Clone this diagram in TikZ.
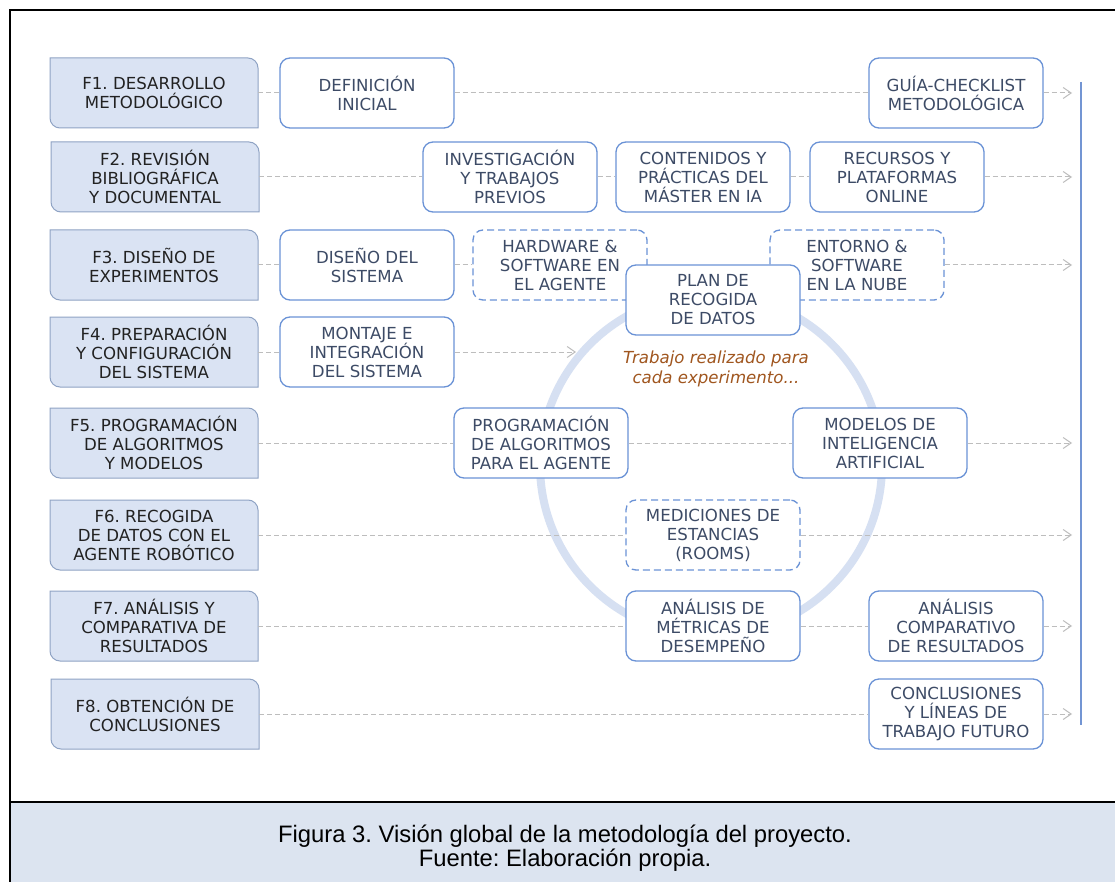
\documentclass[tikz,border=0pt]{standalone}
\usepackage{fontspec}
\setmainfont{DejaVu Sans}
\newfontfamily\capfont{Liberation Sans}
\usetikzlibrary{arrows.meta}
\frenchspacing

\definecolor{phasefill}{HTML}{DAE3F3}
\definecolor{phaseedge}{HTML}{8FA3C4}
\definecolor{phaseink}{HTML}{222222}
\definecolor{taskedge}{HTML}{6A92D6}
\definecolor{taskink}{HTML}{3D4B66}
\definecolor{linkgray}{HTML}{BDBDBD}
\definecolor{ringblue}{HTML}{D6E0F2}
\definecolor{notebrown}{HTML}{A0561F}
\definecolor{capfill}{HTML}{DCE4F0}
\definecolor{railblue}{HTML}{7395D3}

\tikzset{
  boxfont/.style={font=\frenchspacing\fontsize{16.6}{19}\selectfont},
  phaseshape/.style={fill=phasefill, draw=phaseedge, line width=1pt},
  phasetext/.style={boxfont, text=phaseink, align=center, inner sep=0pt,
    minimum width=208pt, minimum height=70pt},
  taskbox/.style={boxfont, text=taskink, align=center, inner sep=0pt,
    draw=taskedge, fill=white, line width=1.3pt, rounded corners=10pt,
    minimum width=174pt, minimum height=70pt},
  taskdash/.style={taskbox, dash pattern=on 7pt off 4pt},
  link/.style={draw=linkgray, line width=1pt, dash pattern=on 5pt off 3pt},
  linkarrow/.style={link, -{Straight Barb[length=8pt,width=11pt]}},
  rail/.style={draw=railblue, line width=1.3pt},
  note/.style={font=\itshape\fontsize{16.6}{20}\selectfont, text=notebrown, align=center},
  caption/.style={font=\capfont\frenchspacing\fontsize{23.8}{24}\selectfont, align=center}
}

% phase box: square top-left / bottom-right, rounded top-right / bottom-left
% #1 name, #2 centre x, #3 centre y (downwards), #4 label
\newcommand{\phasebox}[4]{%
  \draw[phaseshape] ({#2-104},{-(#3)+35}) -- ({#2+94},{-(#3)+35})
    arc[start angle=90,end angle=0,radius=10pt] -- ({#2+104},{-(#3)-35})
    -- ({#2-94},{-(#3)-35})
    arc[start angle=270,end angle=180,radius=10pt] -- cycle;
  \node[phasetext] (#1) at (#2,-#3) {#4};}

\begin{document}
\begin{tikzpicture}[x=1pt,y=1pt]
\useasboundingbox (0,0) rectangle (1115,-882);
\fill[white] (0,0) rectangle (1115,-882);

% caption band and frame
\fill[capfill] (10,-802) rectangle (1115,-882);
\draw[line width=2.5pt] (1115,-10) -- (10,-10) -- (10,-882);
\draw[line width=2.5pt] (10,-802) -- (1115,-802);

% per-experiment cycle
\draw[ringblue, line width=8pt] (711,-465) circle[radius=171pt];

% phases
\phasebox{f1}{154}{93}{F1. DESARROLLO\\METODOLÓGICO}
\phasebox{f2}{155}{177}{F2. REVISIÓN\\BIBLIOGRÁFICA\\Y DOCUMENTAL}
\phasebox{f3}{154}{265}{F3. DISEÑO DE\\EXPERIMENTOS}
\phasebox{f4}{154}{352}{F4. PREPARACIÓN\\Y CONFIGURACIÓN\\DEL SISTEMA}
\phasebox{f5}{154}{443}{F5. PROGRAMACIÓN\\DE ALGORITMOS\\Y MODELOS}
\phasebox{f6}{154}{535}{F6. RECOGIDA\\DE DATOS CON EL\\AGENTE ROBÓTICO}
\phasebox{f7}{154}{626}{F7. ANÁLISIS Y\\COMPARATIVA DE\\RESULTADOS}
\phasebox{f8}{155}{714}{F8. OBTENCIÓN DE\\CONCLUSIONES}

% tasks
\node[taskbox] (def)   at (367,-93)  {DEFINICIÓN\\INICIAL};
\node[taskbox] (guia)  at (956,-93)  {GUÍA-CHECKLIST\\METODOLÓGICA};
\node[taskbox] (inv)   at (510,-177) {INVESTIGACIÓN\\Y TRABAJOS\\PREVIOS};
\node[taskbox] (cont)  at (703,-177) {CONTENIDOS Y\\PRÁCTICAS DEL\\MÁSTER EN IA};
\node[taskbox] (rec)   at (897,-177) {RECURSOS Y\\PLATAFORMAS\\ONLINE};
\node[taskbox] (dis)   at (367,-265) {DISEÑO DEL\\SISTEMA};
\node[taskdash] (hw)   at (560,-265) {HARDWARE \&\\SOFTWARE EN\\EL AGENTE};
\node[taskdash] (ent)  at (857,-265) {ENTORNO \&\\SOFTWARE\\EN LA NUBE};
\node[taskbox] (plan)  at (713,-300) {PLAN DE\\RECOGIDA\\DE DATOS};
\node[taskbox] (mon)   at (367,-352) {MONTAJE E\\INTEGRACIÓN\\DEL SISTEMA};
\node[taskbox] (prog)  at (541,-443) {PROGRAMACIÓN\\DE ALGORITMOS\\PARA EL AGENTE};
\node[taskbox] (mod)   at (880,-443) {MODELOS DE\\INTELIGENCIA\\ARTIFICIAL};
\node[taskdash] (med)  at (713,-535) {MEDICIONES DE\\ESTANCIAS\\(ROOMS)};
\node[taskbox] (amet)  at (713,-626) {ANÁLISIS DE\\MÉTRICAS DE\\DESEMPEÑO};
\node[taskbox] (acomp) at (956,-626) {ANÁLISIS\\COMPARATIVO\\DE RESULTADOS};
\node[taskbox] (conc)  at (956,-714) {CONCLUSIONES\\Y LÍNEAS DE\\TRABAJO FUTURO};

\node[note] (cycle) at (716,-369) {Trabajo realizado para\\cada experimento...};

% arrow ends and closing rail
\coordinate (e1) at (1072,-93);
\coordinate (e2) at (1072,-177);
\coordinate (e3) at (1072,-265);
\coordinate (e4) at (576,-352);
\coordinate (e5) at (1072,-443);
\coordinate (e6) at (1072,-535);
\coordinate (e7) at (1072,-626);
\coordinate (e8) at (1072,-714);
\coordinate (railtop) at (1081,-82);
\coordinate (railbot) at (1081,-725);
\draw[rail] (railtop) -- (railbot);

% connectors
\draw[link] (f1) -- (def);
\draw[link] (def) -- (guia);
\draw[linkarrow] (guia) -- (e1);

\draw[link] (f2) -- (inv);
\draw[link] (inv) -- (cont);
\draw[link] (cont) -- (rec);
\draw[linkarrow] (rec) -- (e2);

\draw[link] (f3) -- (dis);
\draw[link] (dis) -- (hw);
\draw[linkarrow] (ent) -- (e3);

\draw[link] (f4) -- (mon);
\draw[linkarrow] (mon) -- (e4);

\draw[link] (f5) -- (prog);
\draw[link] (prog) -- (mod);
\draw[linkarrow] (mod) -- (e5);

\draw[link] (f6) -- (med);
\draw[linkarrow] (med) -- (e6);

\draw[link] (f7) -- (amet);
\draw[link] (amet) -- (acomp);
\draw[linkarrow] (acomp) -- (e7);

\draw[link] (f8) -- (conc);
\draw[linkarrow] (conc) -- (e8);

% caption
\node[caption] (cap) at (565,-848) {Figura 3. Visión global de la metodología del proyecto.\\Fuente: Elaboración propia.};
\end{tikzpicture}
\end{document}
